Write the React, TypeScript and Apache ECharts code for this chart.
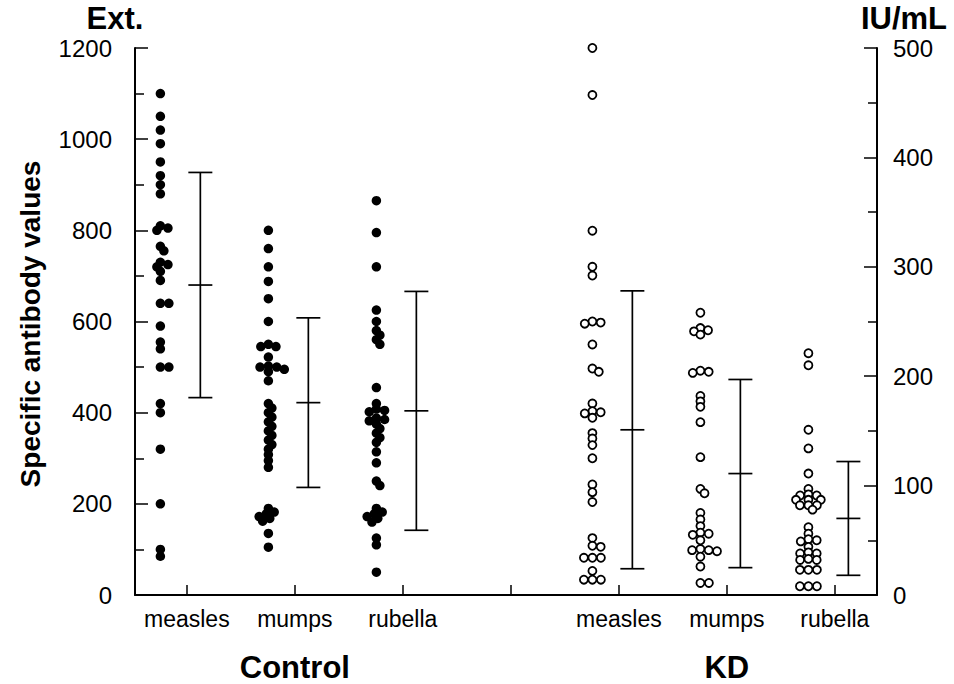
import React, { useEffect, useRef } from "react";
import * as echarts from "echarts";

// ---------- data ----------
const categories = ["measles", "mumps", "rubella", "measles", "mumps", "rubella"];
const categoryTicks = [1, 2, 3, 5, 6, 7];
const axisTicks = [1, 2, 3, 4, 5, 6, 7];
const groupNames = ["Control", "KD"];
const leftTicks = [0, 200, 400, 600, 800, 1000, 1200];
const rightTicks = [0, 100, 200, 300, 400, 500];

// Control (Ext., left axis)
const controlMeasles = [1100, 1050, 1020, 990, 950, 920, 900, 880, 810, 805, 800, 765, 755, 730, 725, 720, 710, 690, 640, 640, 590, 555, 540, 500, 500, 420, 400, 320, 200, 100, 85];
const controlMumps = [800, 760, 720, 688, 650, 600, 550, 545, 545, 522, 502, 500, 500, 495, 490, 470, 420, 410, 400, 390, 380, 370, 360, 350, 340, 330, 320, 308, 295, 280, 190, 182, 178, 172, 168, 162, 135, 105];
const controlRubella = [865, 795, 720, 625, 600, 580, 570, 560, 550, 455, 420, 408, 405, 402, 388, 385, 382, 375, 365, 355, 345, 335, 314, 290, 250, 240, 190, 182, 178, 172, 168, 160, 125, 110, 50];
const controlMean = [680, 422, 404];
const controlSD = [247, 186, 262];

// KD (IU/mL, right axis)
const kdMeasles = [500, 457, 333, 300, 292, 250, 249, 248, 229, 207, 204, 175, 168, 167, 166, 162, 148, 143, 137, 125, 101, 94, 85, 52, 45, 44, 34, 34, 34, 22, 14, 14, 14];
const kdMumps = [258, 244, 242, 241, 238, 205, 204, 203, 182, 177, 172, 158, 126, 97, 93, 75, 69, 63, 57, 56, 55, 50, 42, 41, 41, 40, 35, 26, 11, 11];
const kdRubella = [221, 210, 151, 134, 111, 97, 92, 91, 91, 87, 87, 87, 82, 82, 82, 78, 62, 56, 51, 50, 49, 44, 39, 38, 38, 33, 32, 32, 23, 23, 23, 8, 8, 8];
const kdMean = [151, 111, 70];
const kdSD = [127, 86, 52];

// ---------- layout ----------
const W = 954;
const H = 684;
const GRID = { left: 135, right: 77, top: 48, bottom: 89 };
const X_MIN = 0.52;
const X_MAX = 7.39;
const DOT_OFFSET = -0.245;
const BAR_OFFSET = 0.125;
const FONT = "'Liberation Sans', Arial, Helvetica, sans-serif";

const gridW = W - GRID.left - GRID.right;
const gridH = H - GRID.top - GRID.bottom;
const pxPerX = gridW / (X_MAX - X_MIN);

function swarm(values: number[], cx: number, yMax: number) {
  const pxPerY = gridH / yMax;
  const DX = 8.5;
  const DY = 5;
  const sorted = [...values].sort((a, b) => b - a);
  const placed: { x: number; y: number }[] = [];
  const out: number[][] = [];
  for (const v of sorted) {
    const y = v * pxPerY;
    const cands = [0];
    for (const p of placed) {
      const dy = Math.abs(p.y - y);
      if (dy < DY) {
        const dx = DX * Math.sqrt(1 - (dy / DY) * (dy / DY));
        cands.push(p.x + dx, p.x - dx);
      }
    }
    cands.sort((a, b) => Math.abs(a) - Math.abs(b) || b - a);
    let chosen = 0;
    for (const c of cands) {
      const ok = placed.every((p) => {
        const ex = (p.x - c) / DX;
        const ey = (p.y - y) / DY;
        return ex * ex + ey * ey >= 0.999;
      });
      if (ok) {
        chosen = c;
        break;
      }
    }
    placed.push({ x: chosen, y });
    out.push([cx + chosen / pxPerX, v]);
  }
  return out;
}

function barRender(params: any, api: any) {
  const x = api.value(0);
  const m = api.value(1);
  const s = api.value(2);
  const top = api.coord([x, m + s]);
  const mid = api.coord([x, m]);
  const bot = api.coord([x, m - s]);
  const w = 12;
  const style = { stroke: "#000", lineWidth: 1.7 };
  return {
    type: "group",
    children: [
      { type: "line", shape: { x1: top[0], y1: top[1], x2: bot[0], y2: bot[1] }, style },
      { type: "line", shape: { x1: top[0] - w, y1: top[1], x2: top[0] + w, y2: top[1] }, style },
      { type: "line", shape: { x1: mid[0] - w, y1: mid[1], x2: mid[0] + w, y2: mid[1] }, style },
      { type: "line", shape: { x1: bot[0] - w, y1: bot[1], x2: bot[0] + w, y2: bot[1] }, style },
    ],
  };
}

export default function App() {
  const ref = useRef<HTMLDivElement>(null);
  useEffect(() => {
    if (!ref.current) return;
    const chart = echarts.init(ref.current, undefined, { renderer: "svg" });
    const controlSets = [controlMeasles, controlMumps, controlRubella];
    const kdSets = [kdMeasles, kdMumps, kdRubella];

    const series: any[] = [];
    controlSets.forEach((vals, i) => {
      series.push({
        type: "scatter",
        name: "Control " + categories[i],
        yAxisIndex: 0,
        symbol: "circle",
        symbolSize: 9.5,
        itemStyle: { color: "#000", opacity: 1 },
        data: swarm(vals, categoryTicks[i] + DOT_OFFSET, 1200),
        z: 3,
      });
    });
    kdSets.forEach((vals, i) => {
      series.push({
        type: "scatter",
        name: "KD " + categories[i + 3],
        yAxisIndex: 1,
        symbol: "circle",
        symbolSize: 8,
        itemStyle: { color: "#fff", borderColor: "#000", borderWidth: 1.8, opacity: 1 },
        data: swarm(vals, categoryTicks[i + 3] + DOT_OFFSET, 500),
        z: 3,
      });
    });
    series.push({
      type: "custom",
      name: "Control mean±SD",
      yAxisIndex: 0,
      renderItem: barRender,
      encode: { x: 0, y: 1 },
      data: controlMean.map((m, i) => [categoryTicks[i] + BAR_OFFSET, m, controlSD[i]]),
    });
    series.push({
      type: "custom",
      name: "KD mean±SD",
      yAxisIndex: 1,
      renderItem: barRender,
      encode: { x: 0, y: 1 },
      data: kdMean.map((m, i) => [categoryTicks[i + 3] + BAR_OFFSET, m, kdSD[i]]),
    });

    const axisLineStyle = { color: "#000", width: 2 };
    const tickLabel = { color: "#000", fontSize: 24, fontFamily: FONT, formatter: (v: number) => String(v) };

    chart.setOption({
      animation: false,
      backgroundColor: "#fff",
      grid: { left: GRID.left, right: GRID.right, top: GRID.top, bottom: GRID.bottom, containLabel: false },
      xAxis: {
        type: "value",
        min: X_MIN,
        max: X_MAX,
        axisLine: { show: true, lineStyle: axisLineStyle },
        axisTick: { show: true, inside: true, length: 10, customValues: axisTicks, lineStyle: { color: "#000", width: 1.5 } },
        axisLabel: {
          customValues: categoryTicks,
          formatter: (v: number) => categories[categoryTicks.indexOf(Math.round(v))] ?? "",
          color: "#000",
          fontSize: 23,
          fontFamily: FONT,
          margin: 12,
        },
        splitLine: { show: false },
      },
      yAxis: [
        {
          type: "value",
          position: "left",
          min: 0,
          max: 1200,
          interval: 200,
          axisLine: { show: true, lineStyle: axisLineStyle },
          axisTick: { show: true, inside: true, length: 13, lineStyle: { color: "#000", width: 1.5 } },
          minorTick: { show: true, splitNumber: 2, length: 9, lineStyle: { color: "#000", width: 1.5 } },
          axisLabel: { ...tickLabel, margin: 23, customValues: leftTicks },
          splitLine: { show: false },
        },
        {
          type: "value",
          position: "right",
          min: 0,
          max: 500,
          interval: 100,
          axisLine: { show: true, lineStyle: axisLineStyle },
          axisTick: { show: true, inside: true, length: 13, lineStyle: { color: "#000", width: 1.5 } },
          minorTick: { show: true, splitNumber: 2, length: 9, lineStyle: { color: "#000", width: 1.5 } },
          axisLabel: { ...tickLabel, margin: 16, customValues: rightTicks },
          splitLine: { show: false },
        },
      ],
      graphic: [
        { type: "text", x: 115, y: 18, style: { text: "Ext.", font: `bold 31px ${FONT}`, fill: "#000", textAlign: "center", textVerticalAlign: "middle" } },
        { type: "text", x: 904, y: 18, style: { text: "IU/mL", font: `bold 31px ${FONT}`, fill: "#000", textAlign: "center", textVerticalAlign: "middle" } },
        { type: "text", x: 30, y: 324, rotation: Math.PI / 2, style: { text: "Specific antibody values", font: `bold 28px ${FONT}`, fill: "#000", textAlign: "center", textVerticalAlign: "middle" } },
        { type: "text", x: GRID.left + (2 - X_MIN) * pxPerX, y: 667, style: { text: groupNames[0], font: `bold 31px ${FONT}`, fill: "#000", textAlign: "center", textVerticalAlign: "middle" } },
        { type: "text", x: GRID.left + (6 - X_MIN) * pxPerX, y: 667, style: { text: groupNames[1], font: `bold 31px ${FONT}`, fill: "#000", textAlign: "center", textVerticalAlign: "middle" } },
      ],
      series,
    });
    return () => chart.dispose();
  }, []);
  return <div ref={ref} style={{ position: "fixed", left: 0, top: 0, width: W, height: H, background: "#fff" }} />;
}
